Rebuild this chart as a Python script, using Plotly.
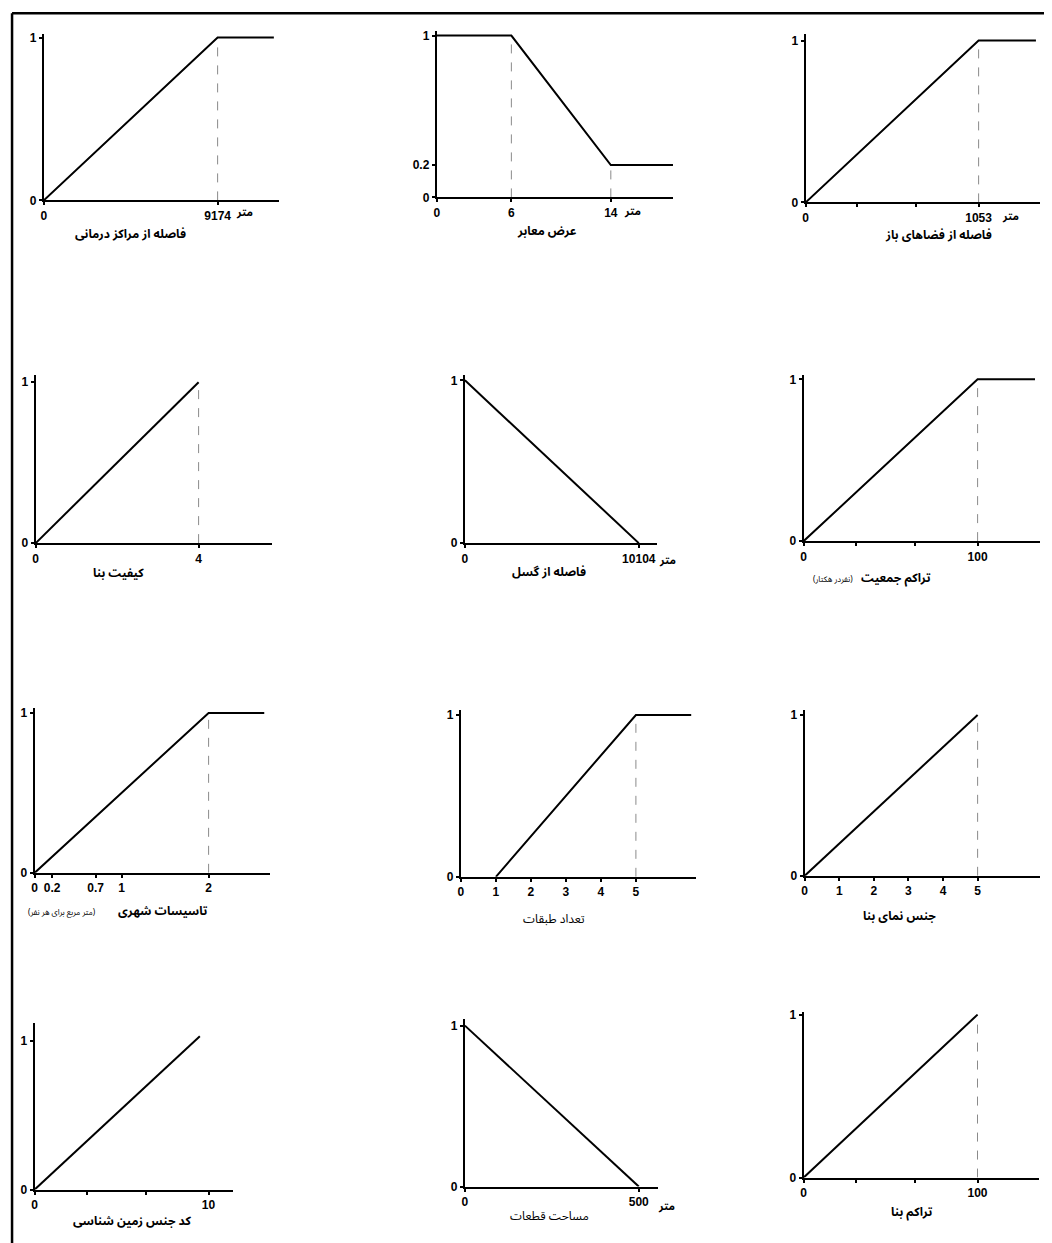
import numpy as np
import plotly.graph_objects as go

W, H = 1052, 1243

# ---- membership functions ----
health_x = [0, 9174, 12140]
health_y = [0, 1, 1]
health_xticks = [0, 9174]
health_guides = [9174]

road_x = [0, 6, 14, 19]
road_y = [1, 1, 0.2, 0.2]
road_xticks = [0, 6, 14]
road_yticks = [0, 0.2, 1]
road_guides = [6, 14]

open_x = [0, 1053, 1402]
open_y = [0, 1, 1]
open_xticks = [0, 1053]
open_minor = [312, 673]
open_guides = [1053]

quality_x = [0, 4]
quality_y = [0, 1]
quality_xticks = [0, 4]
quality_guides = [4]

fault_x = [0, 10104]
fault_y = [1, 0]
fault_xticks = [0, 10104]

popdens_x = [0, 100, 133]
popdens_y = [0, 1, 1]
popdens_xticks = [0, 100]
popdens_minor = [30, 64]
popdens_guides = [100]

facility_x = [0, 2, 2.64]
facility_y = [0, 1, 1]
facility_xticks = [0, 0.2, 0.7, 1, 2]
facility_guides = [2]

floors_x = [1, 5, 6.58]
floors_y = [0, 1, 1]
floors_xticks = [0, 1, 2, 3, 4, 5]
floors_guides = [5]

facade_x = [0, 5]
facade_y = [0, 1]
facade_xticks = [0, 1, 2, 3, 4, 5]
facade_guides = [5]

geo_x = [0, 9.5]
geo_y = [0, 1.03]
geo_xticks = [0, 10]
geo_minor = [3, 6.4]

parcel_x = [0, 500]
parcel_y = [1, 0]
parcel_xticks = [0, 500]

bdens_x = [0, 100]
bdens_y = [0, 1]
bdens_xticks = [0, 100]
bdens_minor = [30, 64]
bdens_guides = [100]

# panel: data + title, and where it sits on the page (pixel box, axis ranges)
panels = [
    dict(x=health_x, y=health_y, xt=health_xticks, g=health_guides,
         title="فاصله از مراکز درمانی", tpos=(130, 234), bold=True, unit=(244, 212),
         box=(44, 278, 33, 200), xmax=12409, ymax=1.025),
    dict(x=road_x, y=road_y, xt=road_xticks, yt=road_yticks, g=road_guides,
         title="عرض معابر", tpos=(545, 231), bold=True, unit=(630, 211),
         box=(435, 670, 30, 197), xmax=19.0, ymax=1.031),
    dict(x=open_x, y=open_y, xt=open_xticks, minor=open_minor, g=open_guides,
         title="فاصله از فضاهای باز", tpos=(934, 235), bold=True, unit=(1006, 216),
         box=(802, 1035, 33, 202), xmax=1426, ymax=1.043),
    dict(x=quality_x, y=quality_y, xt=quality_xticks, g=quality_guides,
         title="کیفیت بنا", tpos=(118, 573), bold=True,
         box=(36, 271, 375, 543), xmax=5.8, ymax=1.043),
    dict(x=fault_x, y=fault_y, xt=fault_xticks,
         title="فاصله از گسل", tpos=(547, 572), bold=True, unit=(665, 560),
         box=(463, 654, 375, 543), xmax=11155, ymax=1.031),
    dict(x=popdens_x, y=popdens_y, xt=popdens_xticks, minor=popdens_minor, g=popdens_guides,
         title="تراکم جمعیت", tpos=(892, 578), bold=True,
         sub="(نفردر هکتار)", spos=(829, 579),
         box=(800, 1035, 375, 541), xmax=135.8, ymax=1.025),
    dict(x=facility_x, y=facility_y, xt=facility_xticks, g=facility_guides,
         title="تاسیسات شهری", tpos=(163, 912), bold=True,
         sub="(متر مربع برای هر نفر)", spos=(62, 913),
         box=(35, 269, 708, 873), xmax=2.705, ymax=1.031),
    dict(x=floors_x, y=floors_y, xt=floors_xticks, g=floors_guides,
         title="تعداد طبقات", tpos=(552, 920), bold=False,
         box=(459, 693, 710, 877), xmax=6.72, ymax=1.031),
    dict(x=facade_x, y=facade_y, xt=facade_xticks, g=facade_guides,
         title="جنس نمای بنا", tpos=(895, 917), bold=True,
         box=(801, 1035, 710, 876), xmax=6.8, ymax=1.031),
    dict(x=geo_x, y=geo_y, xt=geo_xticks, minor=geo_minor,
         title="کد جنس زمین شناسی", tpos=(132, 1222), bold=True,
         box=(35, 232, 1023, 1190), xmax=11.39, ymax=1.121),
    dict(x=parcel_x, y=parcel_y, xt=parcel_xticks,
         title="مساحت قطعات", tpos=(547, 1217), bold=False, unit=(664, 1207),
         box=(463, 655, 1019, 1187), xmax=555, ymax=1.043),
    dict(x=bdens_x, y=bdens_y, xt=bdens_xticks, minor=bdens_minor, g=bdens_guides,
         title="تراکم بنا", tpos=(908, 1213), bold=True,
         box=(800, 1034, 1012, 1178), xmax=135.3, ymax=1.018),
]

FA = "Noto Sans Arabic, DejaVu Sans, sans-serif"
NUM = dict(family="Liberation Sans, Arial", size=12, color="black", weight="bold")


# screenshot pixel -> figure pixel (page has an 8px body margin and a slight shrink)
def fpx(r):
    return (r - 3.5) / 0.992 - 8


def px(x):
    return min(max(fpx(x) / W, 0), 1)


def py(y):
    return min(max(1 - fpx(y) / H, 0), 1)


fig = go.Figure()
annotations = []

for i, p in enumerate(panels, start=1):
    xl, xr, yt, yb = p["box"]
    sfx = "" if i == 1 else str(i)

    # guide lines (dashed)
    for g in p.get("g", []):
        gy = float(np.interp(g, p["x"], p["y"]))
        fig.add_trace(go.Scatter(x=[g, g], y=[0, gy], mode="lines",
                                 line=dict(color="#8a8a8a", width=1, dash="dash"),
                                 xaxis="x" + sfx, yaxis="y" + sfx, hoverinfo="skip"))
    fig.add_trace(go.Scatter(x=p["x"], y=p["y"], mode="lines",
                             line=dict(color="black", width=2),
                             xaxis="x" + sfx, yaxis="y" + sfx))

    minor = p.get("minor", [])
    xtv = list(p["xt"]) + minor
    xtt = [str(v) for v in p["xt"]] + [""] * len(minor)
    ytv = p.get("yt", [0, 1])

    common = dict(showline=True, linecolor="black", linewidth=2, showgrid=False,
                  zeroline=False, ticks="outside", ticklen=3, tickwidth=1.5,
                  tickcolor="black", tickfont=NUM, fixedrange=True)
    fig.update_layout(**{
        "xaxis" + sfx: dict(domain=[px(xl), px(xr)], range=[0, p["xmax"]],
                            anchor="y" + sfx, tickmode="array", tickvals=xtv,
                            ticktext=xtt, **common),
        "yaxis" + sfx: dict(domain=[py(yb), py(yt)], range=[0, p["ymax"]],
                            anchor="x" + sfx, tickmode="array", tickvals=ytv,
                            ticktext=[str(v) for v in ytv], **common),
    })

    tx, ty = p["tpos"]
    annotations.append(dict(text=p["title"], x=px(tx), y=py(ty), xref="paper", yref="paper",
                            showarrow=False, xanchor="center", yanchor="middle",
                            font=dict(family=FA, size=12, color="black",
                                      weight="bold" if p["bold"] else "normal")))
    if "sub" in p:
        sx, sy = p["spos"]
        annotations.append(dict(text=p["sub"], x=px(sx), y=py(sy), xref="paper", yref="paper",
                                showarrow=False, xanchor="center", yanchor="middle",
                                font=dict(family=FA, size=8, color="black")))
    if "unit" in p:
        ux, uy = p["unit"]
        annotations.append(dict(text="متر", x=px(ux), y=py(uy), xref="paper", yref="paper",
                                showarrow=False, xanchor="center", yanchor="middle",
                                font=dict(family=FA, size=11, color="black", weight="bold")))

fig.update_layout(
    width=W, height=H,
    margin=dict(l=0, r=0, t=0, b=0),
    paper_bgcolor="white", plot_bgcolor="white",
    showlegend=False,
    annotations=annotations,
    shapes=[
        dict(type="line", xref="paper", yref="paper", x0=0.001, x1=1, y0=0.999, y1=0.999,
             line=dict(color="black", width=2.5)),
        dict(type="line", xref="paper", yref="paper", x0=0.001, x1=0.001, y0=0.999, y1=0,
             line=dict(color="black", width=2.5)),
    ],
)

fig.write_html("out.html")
